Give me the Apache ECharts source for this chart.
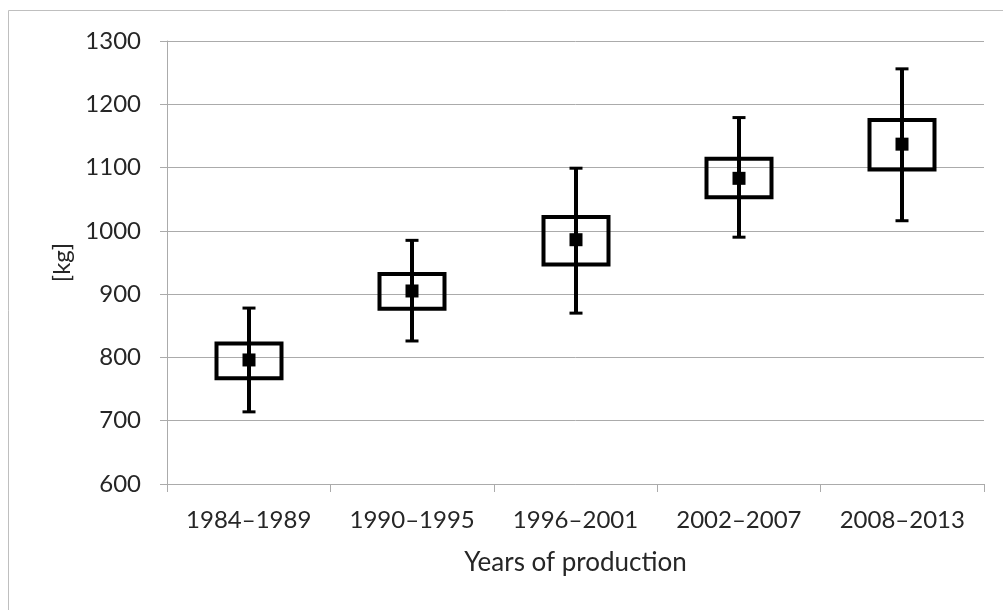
<!DOCTYPE html>
<html>
<head>
<meta charset="utf-8">
<script src="https://cdn.jsdelivr.net/npm/echarts@6/dist/echarts.min.js"></script>
<style>
  html, body { margin: 0; padding: 0; background: #fff; }
  #chart { width: 1003px; height: 610px; }
</style>
</head>
<body>
<div id="chart"></div>
<script>
// periods on the x axis
var categories = ['1984–1989', '1990–1995', '1996–2001', '2002–2007', '2008–2013']
// whisker ends, box edges and mean [kg]
var lowValues = [714, 826, 870, 990, 1016]
var boxLowValues = [767, 877, 947, 1053, 1097]
var meanValues = [796, 905, 986, 1083, 1137]
var boxHighValues = [822, 932, 1022, 1114, 1175]
var highValues = [878, 985, 1099, 1179, 1256]

var font = 'Lato'
var gray = '#ababab'
var textColor = '#262626'

var myChart = echarts.init(document.getElementById('chart'))

var seriesData = categories.map(function (c, i) {
  return [i, lowValues[i], boxLowValues[i], meanValues[i], boxHighValues[i], highValues[i]]
})

myChart.setOption({
  animation: false,
  graphic: [
    {
      type: 'rect',
      shape: { x: 8.5, y: 10.5, width: 1010, height: 620 },
      style: { fill: 'none', stroke: '#bfbfbf', lineWidth: 1 },
      silent: true
    }
  ],
  grid: {
    left: 167,
    right: 19,
    top: 41,
    bottom: 126
  },
  xAxis: {
    type: 'category',
    data: categories,
    name: 'Years of production',
    nameLocation: 'middle',
    nameGap: 66,
    nameTextStyle: { fontFamily: font, fontSize: 26, color: textColor },
    axisLine: { lineStyle: { color: gray, width: 1 } },
    axisTick: { show: true, length: 8, lineStyle: { color: gray } },
    axisLabel: {
      margin: 24,
      fontFamily: font,
      fontSize: 24,
      color: textColor
    }
  },
  yAxis: {
    type: 'value',
    min: 600,
    max: 1300,
    interval: 100,
    name: '[kg]',
    nameLocation: 'middle',
    nameGap: 92,
    nameTextStyle: { fontFamily: font, fontSize: 24, color: textColor },
    axisLine: { show: true, lineStyle: { color: gray, width: 1 } },
    axisTick: { show: true, length: 7, lineStyle: { color: gray } },
    axisLabel: {
      margin: 26,
      fontFamily: font,
      fontSize: 24,
      color: textColor,
      formatter: function (v) {
        return String(v)
      }
    },
    splitLine: { lineStyle: { color: gray, width: 1 } }
  },
  series: [
    {
      type: 'custom',
      data: seriesData,
      encode: { x: 0, y: [1, 2, 3, 4, 5] },
      renderItem: function (params, api) {
        var x = api.value(0)
        var lo = api.coord([x, api.value(1)])
        var b1 = api.coord([x, api.value(2)])
        var m = api.coord([x, api.value(3)])
        var b2 = api.coord([x, api.value(4)])
        var hi = api.coord([x, api.value(5)])
        var cx = Math.round(lo[0])
        var boxW = 65
        var capW = 13
        var ms = 13
        var stroke = { stroke: '#000', lineWidth: 4, fill: 'none' }
        return {
          type: 'group',
          children: [
            // whisker
            { type: 'line', shape: { x1: cx, y1: lo[1], x2: cx, y2: hi[1] }, style: stroke },
            { type: 'line', shape: { x1: cx - capW / 2, y1: lo[1], x2: cx + capW / 2, y2: lo[1] }, style: { stroke: '#000', lineWidth: 3 } },
            { type: 'line', shape: { x1: cx - capW / 2, y1: hi[1], x2: cx + capW / 2, y2: hi[1] }, style: { stroke: '#000', lineWidth: 3 } },
            // box
            {
              type: 'rect',
              shape: { x: cx - boxW / 2, y: b2[1], width: boxW, height: b1[1] - b2[1] },
              style: stroke
            },
            // mean marker
            {
              type: 'rect',
              shape: { x: cx - ms / 2, y: m[1] - ms / 2, width: ms, height: ms },
              style: { fill: '#000' }
            }
          ]
        }
      }
    }
  ]
})
</script>
</body>
</html>
